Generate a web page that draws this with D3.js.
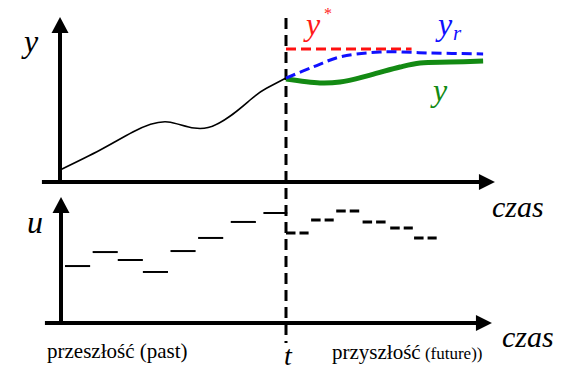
<!DOCTYPE html>
<html lang="pl">
<head>
  <meta charset="UTF-8">
  <title>MPC</title>
  <script src="https://d3js.org/d3.v7.min.js"></script>
  <style>
    body { margin: 0; background: #fff; }
  </style>
</head>
<body>
<svg width="569" height="374"></svg>
<script>
  // time in sampling steps, present moment t = 9
  const tNow = 9;

  // measured output up to now [t, y]
  const yPast = [[0, 0.73], [1.6, 1.94], [2.9, 3.03], [4.3, 3.64],
                 [5.9, 3.30], [7.57, 4.97], [8.24, 5.70], [9, 6.30]];
  // setpoint y*
  const ySet = [[9, 8.06], [14.0, 8.06]];
  // reference trajectory y_r
  const yRef = [[9, 6.30], [10.08, 6.97], [11.15, 7.58], [12.74, 7.88], [14.73, 7.82], [16.85, 7.76]];
  // predicted output y
  const yPred = [[9, 6.24], [10.35, 6.0], [11.15, 6.06], [12.35, 6.48], [13.54, 6.97],
                 [14.34, 7.21], [15.53, 7.27], [16.85, 7.33]];

  // control moves [tStart, tEnd, u]
  const uPast = [[0.2, 1.2, 4.52], [1.3, 2.3, 5.63], [2.3, 3.3, 5.0], [3.3, 4.3, 4.05],
                 [4.4, 5.4, 5.71], [5.5, 6.5, 6.75], [6.8, 7.8, 8.02], [8.1, 9.05, 8.73]];
  const uFuture = [[9, 9.9, 7.14], [10, 10.9, 8.17], [11, 11.95, 8.89], [12.05, 13, 8.02],
                   [13.15, 14.05, 7.54], [14.1, 15, 6.75]];

  const svg = d3.select("svg");
  const serif = "'Liberation Serif', 'Times New Roman', Times, Tinos, 'Noto Serif', 'DejaVu Serif', FreeSerif, serif";

  const x = d3.scaleLinear().domain([0, tNow]).range([60, 286]);
  const yTop = d3.scaleLinear().domain([0, 10]).range([182, 17]);
  const yBot = d3.scaleLinear().domain([0, 10]).range([323, 197]);

  const line = sc => d3.line().x(d => x(d[0])).y(d => sc(d[1]));

  // axes with arrowheads
  function axes(ys, xFrom, xTo, x0) {
    const g = svg.append("g");
    const ax = x(x0), ay = ys(0);
    const tipY = ys(10), tipX = x(xTo);
    g.append("line").attr("x1", ax).attr("x2", ax).attr("y1", ay).attr("y2", tipY + 14)
      .attr("stroke", "#000").attr("stroke-width", 4);
    g.append("path").attr("d", `M${ax - 8.5},${tipY + 16}L${ax},${tipY}L${ax + 8.5},${tipY + 16}Z`);
    g.append("line").attr("x1", x(xFrom)).attr("x2", tipX - 14).attr("y1", ay).attr("y2", ay)
      .attr("stroke", "#000").attr("stroke-width", 4);
    g.append("path").attr("d", `M${tipX - 16},${ay - 8}L${tipX},${ay}L${tipX - 16},${ay + 8}Z`);
  }
  axes(yTop, -0.72, 17.32, 0);
  axes(yBot, -0.6, 17.2, 0.04);

  // present time
  svg.append("line").attr("x1", x(tNow)).attr("x2", x(tNow)).attr("y1", 18).attr("y2", 343)
    .attr("stroke", "#000").attr("stroke-width", 3).attr("stroke-dasharray", "11,6");

  // top panel curves
  svg.append("path").datum(yPast).attr("d", line(yTop).curve(d3.curveNatural))
    .attr("fill", "none").attr("stroke", "#000").attr("stroke-width", 1.6);
  svg.append("path").datum(yPred).attr("d", line(yTop).curve(d3.curveCatmullRom))
    .attr("fill", "none").attr("stroke", "#138a13").attr("stroke-width", 5);
  svg.append("path").datum(ySet).attr("d", line(yTop))
    .attr("fill", "none").attr("stroke", "#ff1010").attr("stroke-width", 3).attr("stroke-dasharray", "10,5");
  svg.append("path").datum(yRef).attr("d", line(yTop).curve(d3.curveCatmullRom))
    .attr("fill", "none").attr("stroke", "#1010ff").attr("stroke-width", 3).attr("stroke-dasharray", "10,5");

  // control moves
  svg.selectAll(".up").data(uPast).join("line")
    .attr("x1", d => x(d[0])).attr("x2", d => x(d[1]))
    .attr("y1", d => yBot(d[2])).attr("y2", d => yBot(d[2]))
    .attr("stroke", "#000").attr("stroke-width", 2);
  svg.selectAll(".uf").data(uFuture).join("line")
    .attr("x1", d => x(d[0])).attr("x2", d => x(d[1]))
    .attr("y1", d => yBot(d[2])).attr("y2", d => yBot(d[2]))
    .attr("stroke", "#000").attr("stroke-width", 3).attr("stroke-dasharray", "9.5,4");

  // labels
  const txt = (s, px, py, size, col, italic) => svg.append("text")
    .attr("x", px).attr("y", py).attr("font-size", size).attr("fill", col || "#000")
    .style("font-family", serif)
    .attr("font-style", italic ? "italic" : "normal").text(s);

  txt("y", 24, 52, 32, "#000", true);
  txt("u", 27, 233, 32, "#000", true);
  txt("czas", 492, 217, 30, "#000", true);
  txt("czas", 502, 347, 30, "#000", true);
  txt("t", 284, 365, 28, "#000", true);
  txt("y", 306, 35, 32, "#ff1a1a", true);
  txt("*", 324, 19, 16, "#ff1a1a", false);
  txt("y", 438, 35, 32, "#1010ff", true);
  txt("r", 453, 40, 21, "#1010ff", true);
  txt("y", 433, 101, 32, "#138a13", true);
  txt("przeszłość (past)", 47, 358, 21);
  const f = txt("przyszłość", 332, 359, 21);
  f.append("tspan").attr("font-size", 17).text(" (future))");
</script>
</body>
</html>
